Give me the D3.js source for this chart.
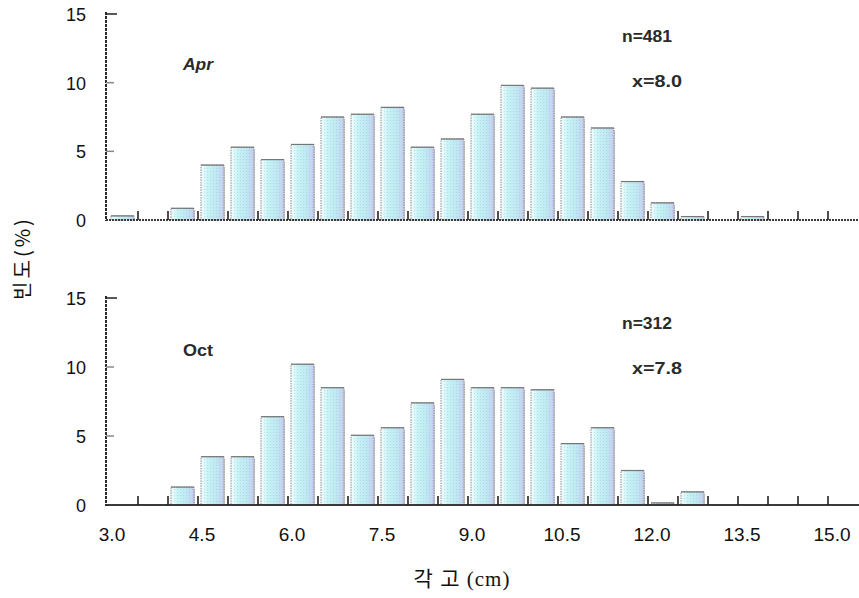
<!DOCTYPE html>
<html>
<head>
<meta charset="utf-8">
<script src="https://cdn.jsdelivr.net/npm/d3@7/dist/d3.min.js"></script>
<style>
  html, body { margin: 0; padding: 0; background: #fff; }
  svg { display: block; }
</style>
</head>
<body>
<svg id="chart" width="859" height="598"></svg>
<script>
// ---- data ----
const binStarts = [3.0, 3.5, 4.0, 4.5, 5.0, 5.5, 6.0, 6.5, 7.0, 7.5, 8.0, 8.5,
                   9.0, 9.5, 10.0, 10.5, 11.0, 11.5, 12.0, 12.5, 13.0, 13.5, 14.0, 14.5];
const aprValues = [0.3, 0, 0.85, 4.0, 5.3, 4.4, 5.5, 7.5, 7.7, 8.2, 5.3, 5.9,
                   7.7, 9.8, 9.6, 7.5, 6.7, 2.8, 1.25, 0.25, 0, 0.25, 0, 0];
const octValues = [0, 0, 1.3, 3.5, 3.5, 6.4, 10.2, 8.5, 5.05, 5.6, 7.4, 9.1,
                   8.5, 8.5, 8.35, 4.45, 5.6, 2.5, 0.15, 0.95, 0, 0, 0, 0];
const xTickLabels = ["3.0", "4.5", "6.0", "7.5", "9.0", "10.5", "12.0", "13.5", "15.0"];
const xTickValues = [3.0, 4.5, 6.0, 7.5, 9.0, 10.5, 12.0, 13.5, 15.0];
const yTickValues = [0, 5, 10, 15];
const panels = [
  { name: "Apr", n: "n=481", mean: "x=8.0", values: aprValues, top: 14, bottom: 220 },
  { name: "Oct", n: "n=312", mean: "x=7.8", values: octValues, top: 298, bottom: 505 }
];
const yLabel = "빈도(%)";
const xLabel = "각 고 (cm)";

// ---- drawing ----
const svg = d3.select("#chart");
const defs = svg.append("defs");

const grad = defs.append("linearGradient").attr("id", "barGrad")
  .attr("x1", "0%").attr("x2", "100%").attr("y1", "0%").attr("y2", "0%");
grad.append("stop").attr("offset", "0%").attr("stop-color", "#f4fefe");
grad.append("stop").attr("offset", "30%").attr("stop-color", "#c6f4f4");
grad.append("stop").attr("offset", "70%").attr("stop-color", "#bde8f2");
grad.append("stop").attr("offset", "100%").attr("stop-color", "#c8cdef");

const pat = defs.append("pattern").attr("id", "dots")
  .attr("width", 3).attr("height", 3).attr("patternUnits", "userSpaceOnUse");
pat.append("rect").attr("x", 0).attr("y", 0).attr("width", 1).attr("height", 1)
  .attr("fill", "#b0b4e4").attr("opacity", 0.45);

const x = d3.scaleLinear().domain([3.0, 15.0]).range([108, 828]);
const binW = x(3.5) - x(3.0);
const axisLeft = 106, axisRight = 859;

panels.forEach(p => {
  const y = d3.scaleLinear().domain([0, 15]).range([p.bottom, p.top]);
  const g = svg.append("g");
  const data = binStarts.map((b, i) => ({ b, v: p.values[i] })).filter(d => d.v > 0);

  // shadows
  g.selectAll("rect.shadow").data(data).enter().append("rect")
    .attr("class", "shadow")
    .attr("x", d => x(d.b) + 5)
    .attr("y", d => y(d.v) + 2)
    .attr("width", binW - 8)
    .attr("height", d => p.bottom - y(d.v) - 2)
    .attr("fill", "#cfcfcf");

  // bars
  g.selectAll("rect.bar").data(data).enter().append("rect")
    .attr("class", "bar")
    .attr("x", d => x(d.b) + 3)
    .attr("y", d => y(d.v))
    .attr("width", binW - 7)
    .attr("height", d => p.bottom - y(d.v))
    .attr("fill", "url(#barGrad)")
    .attr("stroke", "#8a8a8a")
    .attr("stroke-width", 1)
    .attr("stroke-dasharray", "1.5,1");
  g.selectAll("rect.dot").data(data).enter().append("rect")
    .attr("class", "dot")
    .attr("x", d => x(d.b) + 3.5)
    .attr("y", d => y(d.v) + 0.5)
    .attr("width", binW - 8)
    .attr("height", d => Math.max(0, p.bottom - y(d.v) - 1))
    .attr("fill", "url(#dots)");
  // top edge
  g.selectAll("line.topedge").data(data).enter().append("line")
    .attr("x1", d => x(d.b) + 3).attr("x2", d => x(d.b) + binW - 4)
    .attr("y1", d => y(d.v)).attr("y2", d => y(d.v))
    .attr("stroke", "#777").attr("stroke-width", 1.2);

  // x baseline
  g.append("line")
    .attr("x1", axisLeft).attr("x2", axisRight)
    .attr("y1", p.bottom).attr("y2", p.bottom)
    .attr("stroke", "#3a3a3a").attr("stroke-width", 2)
    .attr("stroke-dasharray", p.name === "Apr" ? "2,1" : null);

  // x ticks at bin boundaries (inside)
  const bounds = binStarts.slice(1).concat([15.0]);
  g.selectAll("line.xt").data(bounds).enter().append("line")
    .attr("x1", d => x(d)).attr("x2", d => x(d))
    .attr("y1", p.bottom).attr("y2", p.bottom - 9)
    .attr("stroke", "#222").attr("stroke-width", 1.6);

  // y axis
  g.append("line")
    .attr("x1", axisLeft).attr("x2", axisLeft)
    .attr("y1", y(15) - 2).attr("y2", p.bottom + 1)
    .attr("stroke", "#2a2a2a").attr("stroke-width", 2)
    .attr("stroke-dasharray", "3,1");
  g.selectAll("line.yt").data(yTickValues.filter(v => v > 0)).enter().append("line")
    .attr("x1", axisLeft).attr("x2", d => axisLeft + (d === 15 ? 11 : 8))
    .attr("y1", d => y(d)).attr("y2", d => y(d))
    .attr("stroke", d => d === 15 ? "#222" : "#888").attr("stroke-width", 1.5);

  g.selectAll("text.yl").data(yTickValues).enter().append("text")
    .attr("x", 86).attr("y", d => y(d) + 7)
    .attr("text-anchor", "end")
    .attr("font-family", "Liberation Sans, Arial, sans-serif")
    .attr("font-size", 18).attr("fill", "#111")
    .text(d => d);

  // annotations
  const ann = [
    { t: p.name, x: 183, y: p.top + (p.name === "Apr" ? 56 : 58), style: p.name === "Apr" ? "italic" : "normal" },
    { t: p.n, x: 622, y: p.top + (p.name === "Apr" ? 28 : 31), style: "normal" },
    { t: p.mean, x: 632, y: p.top + (p.name === "Apr" ? 73 : 76), style: "normal" }
  ];
  g.selectAll("text.ann").data(ann).enter().append("text")
    .attr("x", d => d.x).attr("y", d => d.y)
    .attr("font-family", "Liberation Sans, Arial, sans-serif")
    .attr("font-size", 16).attr("font-style", d => d.style)
    .attr("font-weight", "bold").attr("fill", "#2a2a2a")
    .attr("textLength", d => d.t.length * 10)
    .attr("lengthAdjust", "spacingAndGlyphs")
    .text(d => d.t);
});

// x tick labels (under bottom panel)
svg.selectAll("text.xl").data(xTickValues).enter().append("text")
  .attr("x", d => x(d) + 4).attr("y", 541)
  .attr("text-anchor", "middle")
  .attr("font-family", "Liberation Sans, Arial, sans-serif")
  .attr("font-size", 19).attr("fill", "#111")
  .text((d, i) => xTickLabels[i]);

// axis titles
svg.append("text")
  .attr("x", 462).attr("y", 586)
  .attr("text-anchor", "middle")
  .attr("font-family", "Liberation Serif, Noto Sans CJK KR, serif")
  .attr("font-size", 21).attr("fill", "#111")
  .attr("letter-spacing", 1)
  .text(xLabel);

svg.append("text")
  .attr("transform", "translate(30,258) rotate(-90)")
  .attr("text-anchor", "middle")
  .attr("font-family", "Noto Sans CJK KR, sans-serif")
  .attr("font-size", 20).attr("fill", "#111")
  .attr("letter-spacing", 3)
  .text(yLabel);
</script>
</body>
</html>
